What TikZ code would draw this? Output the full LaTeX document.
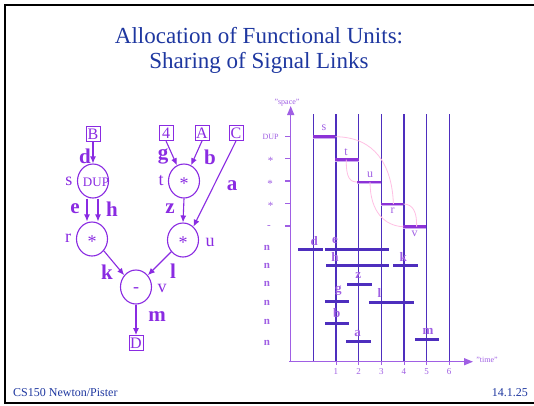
\documentclass[tikz,border=0pt]{standalone}
\usepackage{fontspec}
\setmainfont{Liberation Serif}
\usetikzlibrary{shapes.geometric,arrows.meta,calc}
\definecolor{ttl}{RGB}{30,55,160}
\definecolor{vio}{RGB}{138,43,226}
\definecolor{ind}{RGB}{78,46,190}
\definecolor{lav}{RGB}{160,95,228}
\definecolor{lilac}{RGB}{205,170,240}
\definecolor{pnk}{RGB}{255,192,228}
\definecolor{opbar}{RGB}{140,50,215}
\newcommand\myfs[1]{\fontsize{#1}{#1}\selectfont}
\begin{document}
\begin{tikzpicture}[x=1pt,y=-1pt,
  unit/.style={ellipse,draw=vio,line width=1.1pt,minimum width=31pt,minimum height=34pt,inner sep=0pt},
  inner/.style={text=vio,font=\myfs{18},inner sep=0pt},
  port/.style={draw=vio,line width=0.9pt,minimum width=14pt,minimum height=15pt,inner sep=0pt,text=vio,font=\myfs{16}},
  nm/.style={text=vio,font=\myfs{18},inner sep=0pt},
  sig/.style={text=vio,font=\bfseries\myfs{21},inner sep=0pt},
  link/.style={draw=vio,line width=1.1pt,-{Latex[length=7pt,width=6pt]}},
  axis/.style={draw=lav,line width=1.4pt,-{Triangle[length=9pt,width=7pt]}},
  lvl/.style={text=lav,font=\myfs{11},inner sep=0pt},
  tiny/.style={text=lav,font=\myfs{8},inner sep=0pt},
  grid/.style={draw=ind,line width=1.3pt},
  opb/.style={draw=opbar,line width=2.6pt},
  opshade/.style={draw=lilac,line width=1.2pt},
  lnk/.style={draw=ind,line width=3pt},
  oplab/.style={text=lav,font=\myfs{12},inner sep=0pt},
  lnklab/.style={text=lav,font=\bfseries\myfs{13},inner sep=0pt},
  trail/.style={draw=pnk,line width=0.8pt}
]
\useasboundingbox (0,0) rectangle (534,405);
\fill[white] (0,0) rectangle (534,405);
% slide frame
\draw[line width=2pt] (534,5) -- (5,5) -- (5,403) -- (534,403);

% title and footer
\node[text=ttl,font=\myfs{23},align=center,inner sep=0pt] (title) at (259,50)
  {Allocation of Functional Units:\\[2pt] Sharing of Signal Links};
\node[text=ttl,font=\myfs{12},anchor=west,inner sep=0pt] (foot) at (13,393) {CS150 Newton/Pister};
\node[text=ttl,font=\myfs{12},anchor=east,inner sep=0pt] (page) at (528,393) {14.1.25};

% ---------- data-flow graph ----------
\node[port] (B) at (93,134) {B};
\node[port] (F) at (166,133) {4};
\node[port] (A) at (202,133) {A};
\node[port] (C) at (236,133) {C};
\node[port] (D) at (136,343) {D};

\node[unit] (s) at (93,181) {};
\node[text=vio,font=\myfs{13},inner sep=0pt] (sdup) at (96,182) {DUP};
\node[unit] (t) at (184,181) {};
\node[inner] (tstar) at (184,184) {*};
\node[unit] (r) at (92,239) {};
\node[inner] (rstar) at (92,242) {*};
\node[unit] (u) at (183,240) {};
\node[inner] (ustar) at (183,243) {*};
\node[unit] (v) at (136,287) {};
\node[inner] (vminus) at (136,290) {-};

\node[nm] (sn) at (69,181) {s};
\node[nm] (tn) at (161,181) {t};
\node[nm] (rn) at (68,238) {r};
\node[nm] (un) at (210,242) {u};
\node[nm] (vn) at (162,288) {v};

\draw[link] (B.south) -- (s.north);
\draw[link] (F.south) -- (t);
\draw[link] (A.south) -- (t);
\draw[link] (C.south) -- (u.52);
\draw[link] ([xshift=-6pt]s.south) -- ([xshift=-6pt]s.south |- r.north);
\draw[link] ([xshift=5pt]s.south) -- ([xshift=5pt]s.south |- r.north);
\draw[link] (t.south) -- (u.north);
\draw[link] (r.-45) -- (v.135);
\draw[link] (u.-135) -- (v.45);
\draw[link] (v.south) -- (D.north);

\node[sig] (ld) at (85,156) {d};
\node[sig] (lg) at (163,156) {g};
\node[sig] (lb) at (210,157) {b};
\node[sig] (la) at (232,186) {a};
\node[sig] (le) at (75,209) {e};
\node[sig] (lh) at (112,209) {h};
\node[sig] (lz) at (170,209) {z};
\node[sig] (lk) at (107,272) {k};
\node[sig] (ll) at (173,271) {l};
\node[sig] (lm) at (157,317) {m};

% ---------- space/time chart ----------
\foreach \i in {0,...,6}{
  \pgfmathsetmacro\xx{313.3+22.65*\i}
  \coordinate (vt\i) at (\xx,114);
  \coordinate (vb\i) at (\xx,361);
  \draw[grid] (vt\i) -- (vb\i);
}
\foreach \i in {1,...,6}{
  \pgfmathsetmacro\xx{313.3+22.65*\i}
  \draw[draw=lav,line width=0.8pt] (\xx,361.7) -- (\xx,365);
  \node[tiny,font=\myfs{9}] (tk\i) at (\xx,372) {\i};
}
\coordinate (orig) at (290.7,361.7);
\coordinate (ytop) at (290.7,106);
\coordinate (xend) at (473,361.7);
\draw[axis] (orig) -- (ytop);
\draw[axis] (289,361.7) -- (xend);
\node[tiny] (space) at (287,103) {"space"};
\node[tiny] (time) at (487,360) {"time"};

\foreach \yy in {136.7,158.5,181,203.5,226}{
  \draw[draw=lav,line width=1.2pt] (285,\yy) -- (290.7,\yy);
}
\node[lvl,font=\myfs{8}] (lDUP) at (270.5,136.5) {DUP};
\node[lvl] (l1) at (270.5,161) {*};
\node[lvl] (l2) at (270,183.5) {*};
\node[lvl] (l3) at (270.5,206) {*};
\node[lvl] (l4) at (269,227) {-};
\foreach \yy [count=\k] in {248.3,265.7,284.3,302.7,322,342.7}{
  \node[lvl,font=\bfseries\myfs{11}] (ln\k) at (267,\yy) {n};
}

% operation slots
\foreach \nm/\xa/\xb/\yy/\lx/\ly in {
  s/313.3/335.3/136.7/324/128,
  t/335.3/358.7/159.7/346/152.5,
  u/357.3/381.3/182/370/174.5,
  r/381.3/403.3/204/392.7/210.5,
  v/403.3/426.3/226.7/414.7/233.5}{
  \coordinate (\nm A) at (\xa,\yy);
  \coordinate (\nm B) at (\xb,\yy);
  \draw[opshade] ([yshift=-1.8pt]\nm A) -- ([yshift=-1.8pt]\nm B);
  \draw[opb] (\nm A) -- (\nm B);
  \node[oplab] (\nm L) at (\lx,\ly) {\nm};
}
% value lifetimes passed between operations
\draw[trail] (sB) .. controls (375,137) and (392,165) .. ($(rA)!0.55!(rB)$);
\draw[trail] ($(tA)!0.47!(tB)$) .. controls (346,178) and (350,182) .. (uA);
\draw[trail] ($(uA)!0.53!(uB)$) .. controls (370,212) and (385,226) .. (vA);
\draw[trail] (rB) .. controls (413,204) and (417,212) .. ($(vA)!0.58!(vB)$);

% signal link slots
\foreach \nm/\xa/\xb/\yy/\lx/\ly in {
  d/298.3/322.7/249/314.3/241.5,
  e/325/388.7/249/335/240.5,
  h/326/388.7/265/335/256.5,
  k/393.3/417.7/265/403.3/256.5,
  z/347/371.7/284/358.3/276,
  g/325/348.7/301.3/338.3/291,
  l/369/413.7/302/379.3/292.5,
  b/325/348.7/323.3/336.7/313.5,
  a/346.3/370.7/341.3/357.7/333.5,
  m/415/438.7/339/428/331}{
  \coordinate (k\nm A) at (\xa,\yy);
  \coordinate (k\nm B) at (\xb,\yy);
  \draw[lnk] (k\nm A) -- (k\nm B);
  \node[lnklab] (k\nm L) at (\lx,\ly) {\nm};
}
\end{tikzpicture}
\end{document}
